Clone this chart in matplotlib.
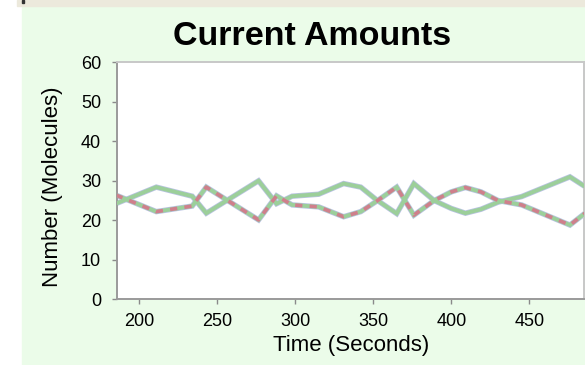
import matplotlib
matplotlib.use("Agg")
import matplotlib.pyplot as plt
from matplotlib.patches import Rectangle

# sample times (s) and molecule counts
times = [185, 211, 234, 243, 276.5, 288, 298, 315, 331, 342, 352, 365, 376,
         389, 400, 409, 419, 430, 445, 476, 487]
species_a = [26.4, 22.2, 23.6, 28.4, 20.1, 26.2, 23.9, 23.4, 20.9, 22.2, 24.8,
             28.4, 21.3, 25.0, 27.2, 28.3, 27.2, 25.0, 23.9, 18.8, 22.2]
species_b = [24.2, 28.4, 26.1, 21.8, 30.0, 24.2, 26.1, 26.6, 29.3, 28.4, 25.2,
             21.7, 29.3, 25.0, 23.0, 21.8, 22.8, 24.6, 26.0, 31.0, 28.2]
x_ticks = [200, 250, 300, 350, 400, 450]
y_ticks = [0, 10, 20, 30, 40, 50, 60]

W, H = 585, 365
plt.rcParams['font.family'] = ['Liberation Sans', 'DejaVu Sans']

fig = plt.figure(figsize=(W / 100, H / 100), dpi=100)
fig.patch.set_facecolor('white')

# panel background and the strip above it
fig.patches.append(Rectangle((22 / W, 0), 1, 1 - 7 / H, transform=fig.transFigure,
                             color='#ebfce9', zorder=-10))
fig.patches.append(Rectangle((17 / W, 1 - 5.5 / H), 1, 5.5 / H, transform=fig.transFigure,
                             color='#ece9dc', zorder=-10))
fig.patches.append(Rectangle((22 / W, 1 - 3 / H), 2 / W, 3 / H, transform=fig.transFigure,
                             color='#333333', zorder=-9))

ax = fig.add_axes([117.3 / W, (H - 299.3) / H, (584 - 117.3) / W, (299.3 - 62.3) / H])
ax.set_facecolor('white')

for ys in (species_a, species_b):
    ax.plot(times, ys, color='#b9c3e2', lw=3.9, solid_joinstyle='miter', zorder=2)
    ax.plot(times, ys, color='#9ccf9a', lw=2.8, solid_joinstyle='miter', zorder=3)
dash, = ax.plot(times, species_a, color='#cf7f8c', lw=2.6, zorder=4)
dash.set_dashes((2.0, 2.0))

ax.set_xlim(186, 485)
ax.set_ylim(0, 60)
ax.set_xticks(x_ticks)
ax.set_yticks(y_ticks)
ax.tick_params(axis='both', direction='out', length=3.6, width=1, color='#8a8a8a',
               labelsize=13)
ax.tick_params(axis='y', pad=8)
ax.tick_params(axis='x', pad=6)

for side in ['left', 'bottom']:
    ax.spines[side].set_color('#9a9a9a')
    ax.spines[side].set_linewidth(1.4)
for side in ['top', 'right']:
    ax.spines[side].set_color('#c8c8c8')
    ax.spines[side].set_linewidth(1.4)

ax.set_xlabel('Time (Seconds)', fontsize=16, labelpad=4)
ax.set_ylabel('Number (Molecules)', fontsize=16, labelpad=10)
ax.yaxis.set_label_coords(-54.5 / (584 - 117.3), (299.3 - 187) / (299.3 - 62.3))

fig.text(312 / W, 1 - 45 / H, 'Current Amounts', fontsize=24.5, fontweight='bold',
         ha='center', va='baseline')

fig.savefig('out.png', dpi=100, facecolor=fig.get_facecolor())
